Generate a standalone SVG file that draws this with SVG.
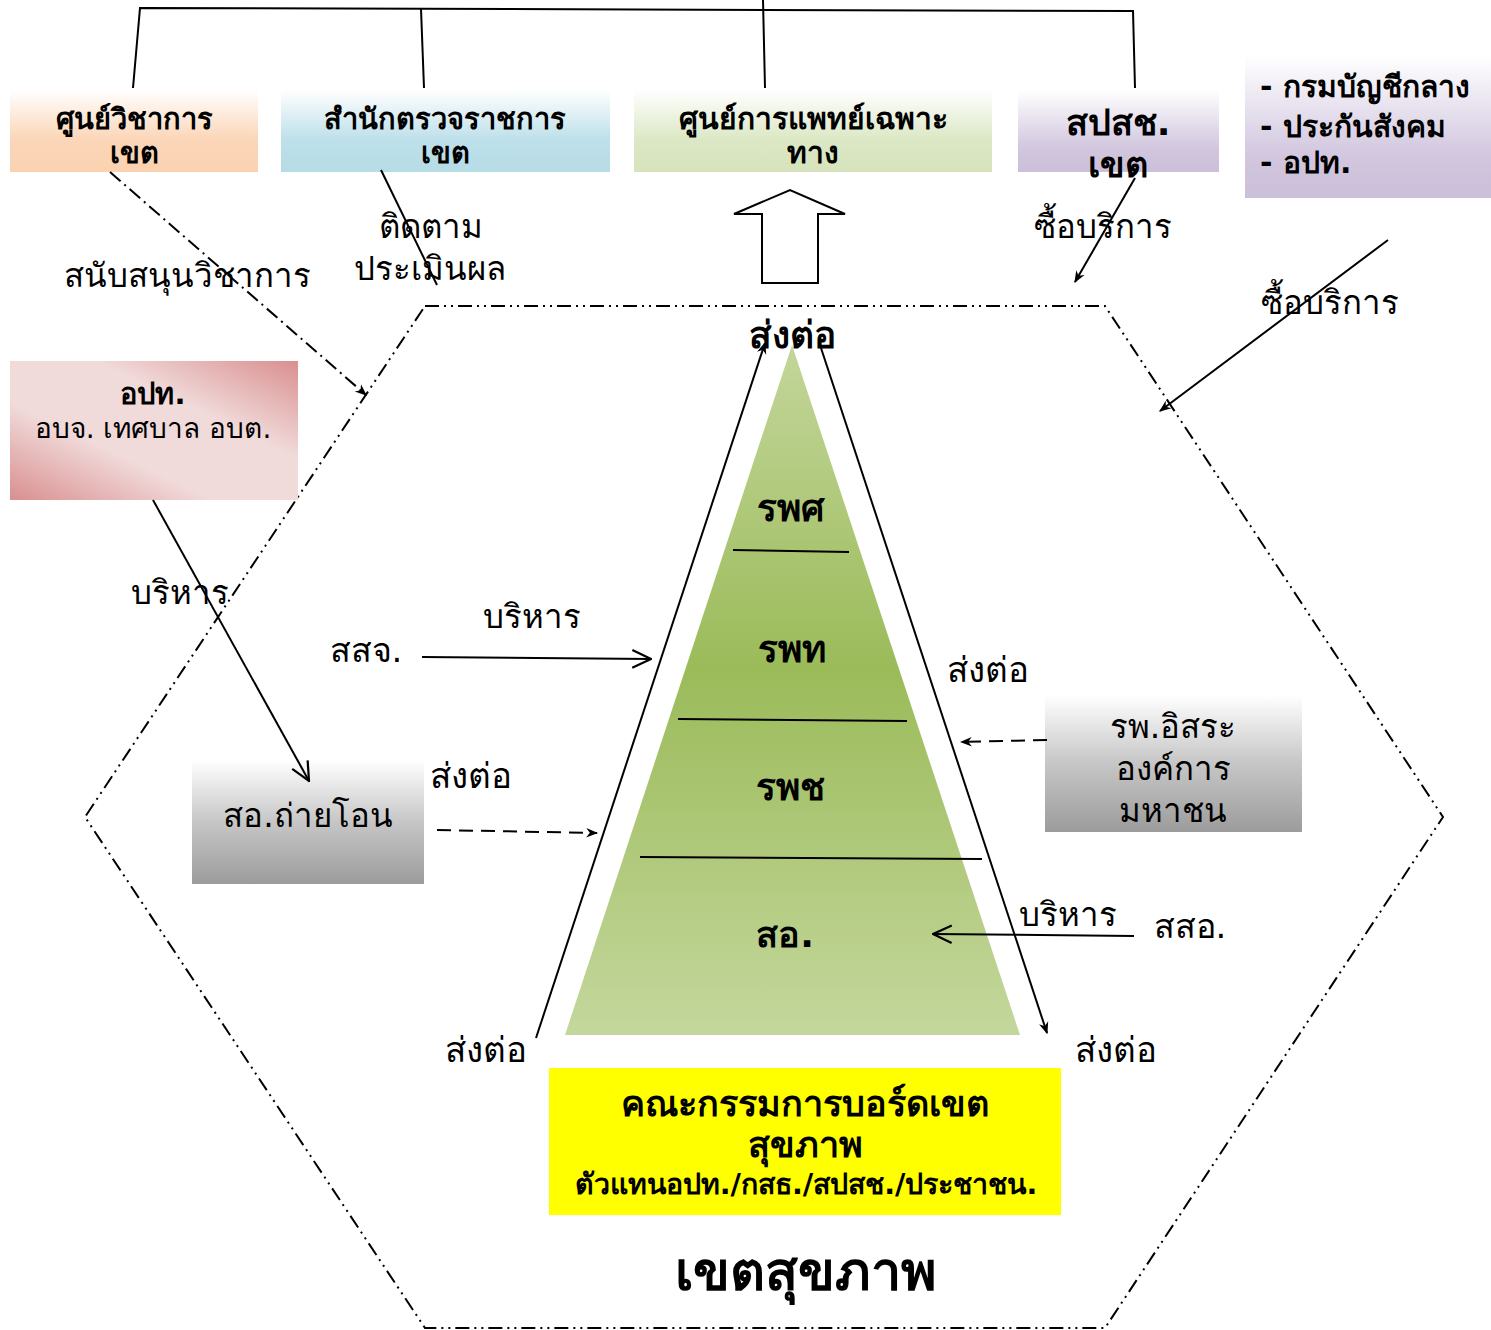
<svg xmlns="http://www.w3.org/2000/svg" width="1491" height="1330" viewBox="0 0 1491 1330">
<style>
text{font-family:"DejaVu Sans","Noto Sans",sans-serif;fill:#000;text-anchor:middle}
.b{font-weight:bold}
.lb{font-size:33px}
.ln{stroke:#000;stroke-width:2;fill:none}
.hex{stroke:#000;stroke-width:2;fill:none;stroke-dasharray:14 5 2 5 2 5}
</style>
<defs>
<linearGradient id="gPeach" x1="0" y1="0" x2="0" y2="1"><stop offset="0" stop-color="#fff"/><stop offset="0.6" stop-color="#FBD6B8"/><stop offset="1" stop-color="#FAD2B0"/></linearGradient>
<linearGradient id="gBlue" x1="0" y1="0" x2="0" y2="1"><stop offset="0" stop-color="#fff"/><stop offset="0.6" stop-color="#BEE0EA"/><stop offset="1" stop-color="#B6DCE6"/></linearGradient>
<linearGradient id="gGreen" x1="0" y1="0" x2="0" y2="1"><stop offset="0" stop-color="#fff"/><stop offset="0.6" stop-color="#DCE8C5"/><stop offset="1" stop-color="#D6E3BC"/></linearGradient>
<linearGradient id="gLav" x1="0" y1="0" x2="0" y2="1"><stop offset="0" stop-color="#fff"/><stop offset="0.7" stop-color="#D2C7DF"/><stop offset="1" stop-color="#CBBFD9"/></linearGradient>
<linearGradient id="gGray" x1="0" y1="0" x2="0" y2="1"><stop offset="0" stop-color="#fff"/><stop offset="0.5" stop-color="#C6C6C6"/><stop offset="1" stop-color="#9C9C9C"/></linearGradient>
<linearGradient id="gPink" x1="1" y1="0" x2="0" y2="1"><stop offset="0" stop-color="#D98F8F"/><stop offset="0.35" stop-color="#F1DADA"/><stop offset="0.65" stop-color="#F1DADA"/><stop offset="1" stop-color="#D98F8F"/></linearGradient>
<linearGradient id="gPyr" gradientUnits="userSpaceOnUse" x1="0" y1="345" x2="0" y2="1035"><stop offset="0" stop-color="#C3D69B"/><stop offset="0.47" stop-color="#9BBB59"/><stop offset="1" stop-color="#C4D79D"/></linearGradient>
<marker id="ah" viewBox="0 0 10 10" refX="9" refY="5" markerWidth="12" markerHeight="12" markerUnits="userSpaceOnUse" orient="auto"><path d="M0,1 L10,5 L0,9 L3,5 Z" fill="#000"/></marker>
<marker id="av" viewBox="0 0 20 20" refX="19" refY="10" markerWidth="22" markerHeight="22" markerUnits="userSpaceOnUse" orient="auto"><path d="M2,2 L19,10 L2,18" fill="none" stroke="#000" stroke-width="2"/></marker>
</defs>
<rect width="1491" height="1330" fill="#fff"/>

<g id="hexagon">
<polygon class="hex" points="425,306 1105,306 1443,817 1105,1328 425,1328 85,817"/>
</g>

<g id="pyramid">
<polygon points="792,345 1020,1035 565,1035" fill="url(#gPyr)"/>
<line class="ln" x1="733" y1="550" x2="849" y2="552"/>
<line class="ln" x1="678" y1="719" x2="907" y2="721"/>
<line class="ln" x1="640" y1="857" x2="982" y2="859"/>
<text class="b" x="790" y="521" font-size="37">รพศ</text>
<text class="b" x="792" y="662" font-size="37">รพท</text>
<text class="b" x="790" y="800" font-size="37">รพช</text>
<text class="b" x="785" y="947" font-size="36">สอ.</text>
</g>

<g id="n-academic">
<rect x="10" y="90" width="248" height="82" fill="url(#gPeach)"/>
<text class="b" x="134" y="129" font-size="29">ศูนย์วิชาการ</text>
<text class="b" x="134" y="163" font-size="29">เขต</text>
</g>
<g id="n-inspect">
<rect x="281" y="90" width="329" height="82" fill="url(#gBlue)"/>
<text class="b" x="445" y="129" font-size="29">สำนักตรวจราชการ</text>
<text class="b" x="445" y="163" font-size="29">เขต</text>
</g>
<g id="n-medical">
<rect x="634" y="90" width="358" height="82" fill="url(#gGreen)"/>
<text class="b" x="813" y="129" font-size="30">ศูนย์การแพทย์เฉพาะ</text>
<text class="b" x="813" y="163" font-size="30">ทาง</text>
</g>
<g id="n-nhso">
<rect x="1018" y="90" width="201" height="82" fill="url(#gLav)"/>
<text class="b" x="1118" y="135" font-size="36">สปสช.</text>
<text class="b" x="1118" y="177" font-size="36">เขต</text>
</g>
<g id="n-funds">
<rect x="1245" y="55" width="246" height="143" fill="url(#gLav)"/>
<text class="b" x="1260" y="97" font-size="30" style="text-anchor:start">- กรมบัญชีกลาง</text>
<text class="b" x="1260" y="137" font-size="30" style="text-anchor:start">- ประกันสังคม</text>
<text class="b" x="1260" y="173" font-size="30" style="text-anchor:start">- อปท.</text>
</g>
<g id="n-lao">
<rect x="10" y="361" width="288" height="139" fill="url(#gPink)"/>
<text class="b" x="153" y="404" font-size="29">อปท.</text>
<text x="153" y="438" font-size="28">อบจ. เทศบาล อบต.</text>
</g>
<g id="n-transfer">
<rect x="192" y="760" width="232" height="124" fill="url(#gGray)"/>
<text x="308" y="827" font-size="33">สอ.ถ่ายโอน</text>
</g>
<g id="n-autonomous">
<rect x="1045" y="695" width="257" height="137" fill="url(#gGray)"/>
<text x="1173" y="738" font-size="33">รพ.อิสระ</text>
<text x="1173" y="780" font-size="33">องค์การ</text>
<text x="1173" y="822" font-size="33">มหาชน</text>
</g>
<g id="n-board">
<rect x="549" y="1068" width="512" height="147" fill="#FFFF00"/>
<text class="b" x="805" y="1116" font-size="36">คณะกรรมการบอร์ดเขต</text>
<text class="b" x="805" y="1157" font-size="36">สุขภาพ</text>
<text class="b" x="806" y="1194" font-size="28.5">ตัวแทนอปท./กสธ./สปสช./ประชาชน.</text>
</g>
<g id="n-region">
<text class="b" x="806" y="1290" font-size="54">เขตสุขภาพ</text>
</g>

<g id="connectors">
<polyline class="ln" points="133,88 140,8 1133,11 1135,88"/>
<line class="ln" x1="421" y1="9" x2="424" y2="88"/>
<line class="ln" x1="763" y1="0" x2="765" y2="88"/>
<line class="ln" x1="110" y1="172" x2="366" y2="395" style="stroke-dasharray:14 5 2 5" marker-end="url(#ah)"/>
<line class="ln" x1="381" y1="170" x2="437" y2="285"/>
<polygon points="762,283 818,283 818,214 845,214 790,190 734,214 762,214" fill="#fff" stroke="#000" stroke-width="2"/>
<line class="ln" x1="1135" y1="178" x2="1075" y2="282" marker-end="url(#ah)"/>
<line class="ln" x1="1388" y1="240" x2="1160" y2="411" marker-end="url(#ah)"/>
<line class="ln" x1="153" y1="500" x2="309" y2="781" marker-end="url(#av)"/>
<line class="ln" x1="422" y1="657" x2="651" y2="659" marker-end="url(#av)"/>
<line class="ln" x1="437" y1="830" x2="597" y2="833" style="stroke-dasharray:14 8" marker-end="url(#ah)"/>
<line class="ln" x1="1047" y1="740" x2="961" y2="742" style="stroke-dasharray:14 8" marker-end="url(#ah)"/>
<line class="ln" x1="1134" y1="936" x2="933" y2="934" marker-end="url(#av)"/>
<line class="ln" x1="536" y1="1038" x2="765" y2="343" marker-end="url(#ah)"/>
<line class="ln" x1="820" y1="345" x2="1047" y2="1033" marker-end="url(#ah)"/>
</g>

<g id="labels">
<text class="lb" x="187" y="287">สนับสนุนวิชาการ</text>
<text class="lb" x="431" y="238">ติดตาม</text>
<text class="lb" x="430" y="280">ประเมินผล</text>
<text class="lb" x="1103" y="238">ซื้อบริการ</text>
<text class="lb" x="1330" y="314">ซื้อบริการ</text>
<text class="b" x="792" y="348" font-size="37">ส่งต่อ</text>
<text class="lb" x="180" y="604">บริหาร</text>
<text class="lb" x="532" y="628">บริหาร</text>
<text class="lb" x="366" y="662" font-size="34" style="font-size:34px">สสจ.</text>
<text class="lb" x="471" y="788" style="font-size:35px">ส่งต่อ</text>
<text class="lb" x="988" y="682" style="font-size:35px">ส่งต่อ</text>
<text class="lb" x="1068" y="926">บริหาร</text>
<text class="lb" x="1190" y="938" style="font-size:34px">สสอ.</text>
<text class="lb" x="486" y="1062" style="font-size:35px">ส่งต่อ</text>
<text class="lb" x="1116" y="1062" style="font-size:35px">ส่งต่อ</text>
</g>
</svg>
